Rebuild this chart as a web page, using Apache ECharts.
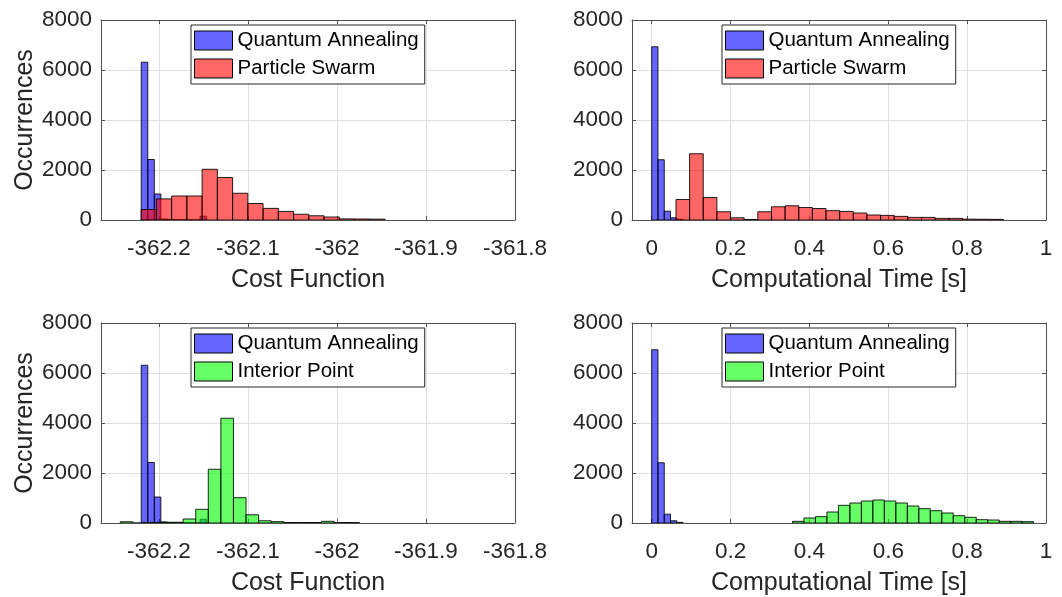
<!DOCTYPE html>
<html>
<head>
<meta charset="utf-8">
<script src="https://cdn.jsdelivr.net/npm/echarts@6/dist/echarts.min.js"></script>
<style>
  html, body { margin: 0; padding: 0; background: #ffffff; }
  #chart { width: 1062px; height: 597px; }
</style>
</head>
<body>
<div id="chart"></div>
<script>
// ---- Histogram data: first bin edge, bin width, counts per bin ----

// Cost function, Quantum Annealing
const costQAStart = -362.2198;
const costQAWidth = 0.00734;
const costQACounts = [6310, 2420, 1040, 40, 20, 0, 0, 0, 0, 150];

// Cost function, Particle Swarm
const costPSStart = -362.2199;
const costPSWidth = 0.01712;
const costPSCounts = [420, 845, 960, 960, 2030, 1700, 1070, 660, 465, 345, 230, 170, 120, 45, 40, 35];

// Cost function, Interior Point
const costIPStart = -362.2434;
const costIPWidth = 0.01413;
const costIPCounts = [50, 0, 10, 30, 30, 160, 547, 2150, 4190, 1013, 330, 90, 55, 20, 20, 20, 67, 20, 20];

// Computational time, Quantum Annealing
const timeQAStart = 0;
const timeQAWidth = 0.0159;
const timeQACounts = [6930, 2410, 352, 90, 25];

// Computational time, Particle Swarm
const timePSStart = 0.0615;
const timePSWidth = 0.0346;
const timePSCounts = [820, 2650, 900, 330, 90, 20, 330, 530, 570, 500, 460, 375, 345, 280, 200, 185, 145, 105, 105, 65, 65, 35, 30, 25];

// Computational time, Interior Point
const timeIPStart = 0.357;
const timeIPWidth = 0.02913;
const timeIPCounts = [67, 200, 253, 440, 707, 800, 880, 920, 880, 800, 680, 573, 493, 400, 293, 227, 133, 120, 67, 67, 53];

// ---- Axis ticks ----
const costTicks = [-362.2, -362.1, -362, -361.9, -361.8];
const timeTicks = [0, 0.2, 0.4, 0.6, 0.8, 1];
const countTicks = [0, 2000, 4000, 6000, 8000];
const costRange = [-362.265, -361.8];
const timeRange = [-0.05, 1];

const seriesNames = {
  qa: 'Quantum Annealing',
  ps: 'Particle Swarm',
  ip: 'Interior Point'
};
const axisTitles = {
  cost: 'Cost Function',
  time: 'Computational Time [s]',
  count: 'Occurrences'
};

// ---- Styling ----
const FONT = '"Liberation Sans", Arial, Helvetica, sans-serif';
const TEXT = '#262626';
const AXIS = '#505050';
const GRID = '#e0e0e0';
const FILL = {
  qa: 'rgba(0,0,255,0.6)',
  ps: 'rgba(255,0,0,0.6)',
  ip: 'rgba(0,255,0,0.6)'
};

// Panel placement in pixels
const panels = [
  { left: 101, top: 20, width: 414, height: 200, x: 'cost', other: 'ps', yName: true },
  { left: 632, top: 20, width: 414, height: 200, x: 'time', other: 'ps', yName: false },
  { left: 101, top: 323, width: 414, height: 200, x: 'cost', other: 'ip', yName: true },
  { left: 632, top: 323, width: 414, height: 200, x: 'time', other: 'ip', yName: false }
];

function toBins(start, width, counts) {
  return counts.map((c, i) => [start + i * width, start + (i + 1) * width, c]);
}

const binsFor = {
  cost: {
    qa: toBins(costQAStart, costQAWidth, costQACounts),
    ps: toBins(costPSStart, costPSWidth, costPSCounts),
    ip: toBins(costIPStart, costIPWidth, costIPCounts)
  },
  time: {
    qa: toBins(timeQAStart, timeQAWidth, timeQACounts),
    ps: toBins(timePSStart, timePSWidth, timePSCounts),
    ip: toBins(timeIPStart, timeIPWidth, timeIPCounts)
  }
};

function renderBin(params, api) {
  const p0 = api.coord([api.value(0), api.value(2)]);
  const p1 = api.coord([api.value(1), 0]);
  return {
    type: 'rect',
    shape: { x: p0[0], y: p0[1], width: p1[0] - p0[0], height: p1[1] - p0[1] },
    style: { fill: api.visual('color'), stroke: 'rgba(0,0,0,0.85)', lineWidth: 1 }
  };
}

const fmt = v => String(v);

const grids = [], xAxes = [], yAxes = [], series = [], legends = [];

panels.forEach((p, i) => {
  grids.push({ left: p.left, top: p.top, width: p.width, height: p.height, containLabel: false });
  const range = p.x === 'cost' ? costRange : timeRange;
  const ticks = p.x === 'cost' ? costTicks : timeTicks;

  // bottom x axis with labels and grid lines
  xAxes.push({
    type: 'value', gridIndex: i, position: 'bottom',
    min: range[0], max: range[1],
    name: axisTitles[p.x], nameLocation: 'middle', nameGap: 48,
    nameTextStyle: { fontFamily: FONT, fontSize: 25, color: TEXT },
    axisLine: { show: true, onZero: false, lineStyle: { color: AXIS, width: 1 } },
    axisTick: { show: true, inside: true, length: 4, customValues: ticks, lineStyle: { color: AXIS } },
    axisLabel: { show: true, customValues: ticks, formatter: fmt, margin: 17,
      fontFamily: FONT, fontSize: 22.5, color: TEXT },
    splitLine: { show: true, lineStyle: { color: GRID, width: 1 } }
  });
  // top x axis: box edge with inward ticks
  xAxes.push({
    type: 'value', gridIndex: i, position: 'top',
    min: range[0], max: range[1],
    axisLine: { show: true, onZero: false, lineStyle: { color: AXIS, width: 1 } },
    axisTick: { show: true, inside: true, length: 4, customValues: ticks, lineStyle: { color: AXIS } },
    axisLabel: { show: false },
    splitLine: { show: false }
  });
  // left y axis
  yAxes.push({
    type: 'value', gridIndex: i, position: 'left',
    min: countTicks[0], max: countTicks[countTicks.length - 1], interval: 2000,
    name: p.yName ? axisTitles.count : '', nameLocation: 'middle', nameGap: 62, nameRotate: 90,
    nameTextStyle: { fontFamily: FONT, fontSize: 25, color: TEXT },
    axisLine: { show: true, onZero: false, lineStyle: { color: AXIS, width: 1 } },
    axisTick: { show: true, inside: true, length: 4, lineStyle: { color: AXIS } },
    axisLabel: { show: true, formatter: fmt, margin: 9, fontFamily: FONT, fontSize: 22.5, color: TEXT },
    splitLine: { show: true, lineStyle: { color: GRID, width: 1 } }
  });
  // right y axis: box edge with inward ticks
  yAxes.push({
    type: 'value', gridIndex: i, position: 'right',
    min: countTicks[0], max: countTicks[countTicks.length - 1], interval: 2000,
    axisLine: { show: true, onZero: false, lineStyle: { color: AXIS, width: 1 } },
    axisTick: { show: true, inside: true, length: 4, lineStyle: { color: AXIS } },
    axisLabel: { show: false },
    splitLine: { show: false }
  });

  ['qa', p.other].forEach((key, k) => {
    series.push({
      type: 'custom',
      name: seriesNames[key],
      xAxisIndex: 2 * i, yAxisIndex: 2 * i,
      data: binsFor[p.x][key],
      encode: { x: [0, 1], y: 2 },
      renderItem: renderBin,
      clip: true,
      z: 2 + k,
      itemStyle: { color: FILL[key], borderColor: '#000000', borderWidth: 1 }
    });
  });

  legends.push({
    data: [seriesNames.qa, seriesNames[p.other]],
    orient: 'vertical',
    left: p.left + 90,
    top: p.top + 5,
    icon: 'rect',
    itemWidth: 38, itemHeight: 19, itemGap: 7,
    padding: [5, 6, 5, 3],
    backgroundColor: '#ffffff',
    borderColor: '#262626', borderWidth: 1,
    selectedMode: false,
    itemStyle: { borderColor: '#000000', borderWidth: 1 },
    textStyle: { fontFamily: FONT, fontSize: 20.5, lineHeight: 20, color: '#000000' }
  });
});

const chart = echarts.init(document.getElementById('chart'), null, { renderer: 'canvas' });
chart.setOption({
  backgroundColor: '#ffffff',
  animation: false,
  grid: grids,
  xAxis: xAxes,
  yAxis: yAxes,
  legend: legends,
  series: series
});
</script>
</body>
</html>
